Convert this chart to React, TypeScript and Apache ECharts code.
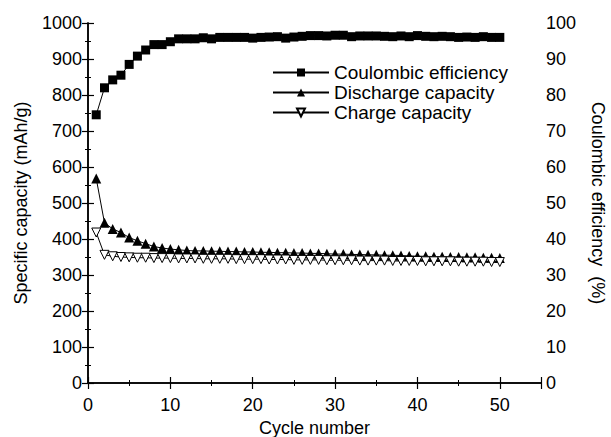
import React, { useEffect, useRef } from "react";
import * as echarts from "echarts";

const cycles = Array.from({ length: 50 }, (_, i) => i + 1);

const coulombicEfficiency = [
  74.5, 82, 84.2, 85.5, 88.5, 90.8, 92.5, 94, 94, 94.8,
  95.6, 95.6, 95.6, 95.9, 95.6, 96, 96, 96, 96, 95.8,
  96, 96.1, 96.2, 95.8, 96.1, 96.3, 96.5, 96.5, 96.4, 96.6,
  96.6, 96.2, 96.4, 96.4, 96.4, 96.3, 96.2, 96.4, 96.2, 96.5,
  96.3, 96.2, 96.3, 96.2, 96, 96.1, 96, 96.2, 96, 96,
];

const dischargeCapacity = [
  568, 445, 428, 418, 404, 395, 387, 379, 375, 372,
  370, 368, 367, 367, 366, 366, 365, 365, 364, 364,
  363, 363, 362, 362, 361, 361, 360, 360, 359, 358,
  358, 357, 357, 356, 356, 355, 355, 354, 353, 352,
  352, 351, 351, 350, 350, 349, 349, 348, 348, 347,
];

const chargeCapacity = [
  418, 356, 352, 350, 349, 348, 348, 347, 347, 347,
  346, 346, 346, 345, 345, 345, 345, 344, 344, 344,
  344, 343, 343, 343, 342, 342, 342, 342, 341, 341,
  341, 341, 340, 340, 340, 340, 339, 339, 339, 339,
  338, 338, 338, 338, 337, 337, 337, 337, 336, 336,
];

const xTicks = [0, 10, 20, 30, 40, 50];

export default function App() {
  const ref = useRef<HTMLDivElement>(null);
  useEffect(() => {
    if (!ref.current) return;
    const chart = echarts.init(ref.current, null, { renderer: "svg" });
    const font = "Liberation Sans, Arial, sans-serif";
    const axisCommon = {
      axisLine: { show: true, lineStyle: { color: "#000", width: 1.5 } },
      axisTick: { show: true, inside: true, length: 6, lineStyle: { color: "#000", width: 1.2 } },
      minorTick: { show: true, splitNumber: 2, length: 3, lineStyle: { color: "#000", width: 1 } },
      splitLine: { show: false },
      axisLabel: { color: "#000", fontSize: 18, fontFamily: font },
      nameTextStyle: { color: "#000", fontSize: 18, fontFamily: font },
    };
    const d = (arr: number[]) => cycles.map((c, i) => [c, arr[i]]);
    chart.setOption({
      animation: false,
      backgroundColor: "#fff",
      textStyle: { fontFamily: font },
      grid: { left: 88, right: 70, top: 23, bottom: 54, outerBoundsMode: "none", containLabel: false },
      legend: {
        orient: "vertical",
        left: 267,
        top: 58,
        itemWidth: 56,
        itemHeight: 10,
        itemGap: 1,
        textStyle: { color: "#000", fontSize: 19, fontFamily: font },
        data: ["Coulombic efficiency", "Discharge capacity", "Charge capacity"],
      },
      xAxis: [
        {
          ...axisCommon,
          type: "value",
          min: 0,
          max: 55,
          interval: 10,
          name: "Cycle number",
          nameLocation: "middle",
          nameGap: 36,
          axisLabel: {
            ...axisCommon.axisLabel,
            margin: 13,
            formatter: (v: number) => (xTicks.includes(v) ? String(v) : ""),
          },
        },
        {
          ...axisCommon,
          type: "value",
          position: "top",
          min: 0,
          max: 55,
          interval: 10,
          axisLabel: { show: false },
        },
      ],
      yAxis: [
        {
          ...axisCommon,
          type: "value",
          min: 0,
          max: 1000,
          interval: 100,
          name: "Specific capacity (mAh/g)",
          nameLocation: "middle",
          nameGap: 58,
          axisLabel: { ...axisCommon.axisLabel, margin: 6, formatter: (v: number) => String(v) },
        },
        {
          ...axisCommon,
          type: "value",
          position: "right",
          min: 0,
          max: 100,
          interval: 10,
          name: "Coulombic efficiency  (%)",
          nameLocation: "middle",
          nameRotate: -90,
          nameGap: 48,
          axisLabel: { ...axisCommon.axisLabel, margin: 5 },
        },
      ],
      series: [
        {
          name: "Coulombic efficiency",
          type: "line",
          yAxisIndex: 1,
          data: d(coulombicEfficiency),
          symbol: "rect",
          symbolSize: 9,
          itemStyle: { color: "#000" },
          lineStyle: { color: "#000", width: 1 },
        },
        {
          name: "Discharge capacity",
          type: "line",
          yAxisIndex: 0,
          data: d(dischargeCapacity),
          symbol: "triangle",
          symbolSize: 10,
          itemStyle: { color: "#000" },
          lineStyle: { color: "#000", width: 1 },
        },
        {
          name: "Charge capacity",
          type: "line",
          yAxisIndex: 0,
          data: d(chargeCapacity),
          symbol: "triangle",
          symbolRotate: 180,
          symbolSize: 9,
          itemStyle: { color: "#fff", borderColor: "#000", borderWidth: 1 },
          lineStyle: { color: "#000", width: 1 },
        },
      ],
    });
    return () => chart.dispose();
  }, []);
  return <div ref={ref} style={{ width: 611, height: 437, position: "absolute", left: 0, top: 0 }} />;
}
